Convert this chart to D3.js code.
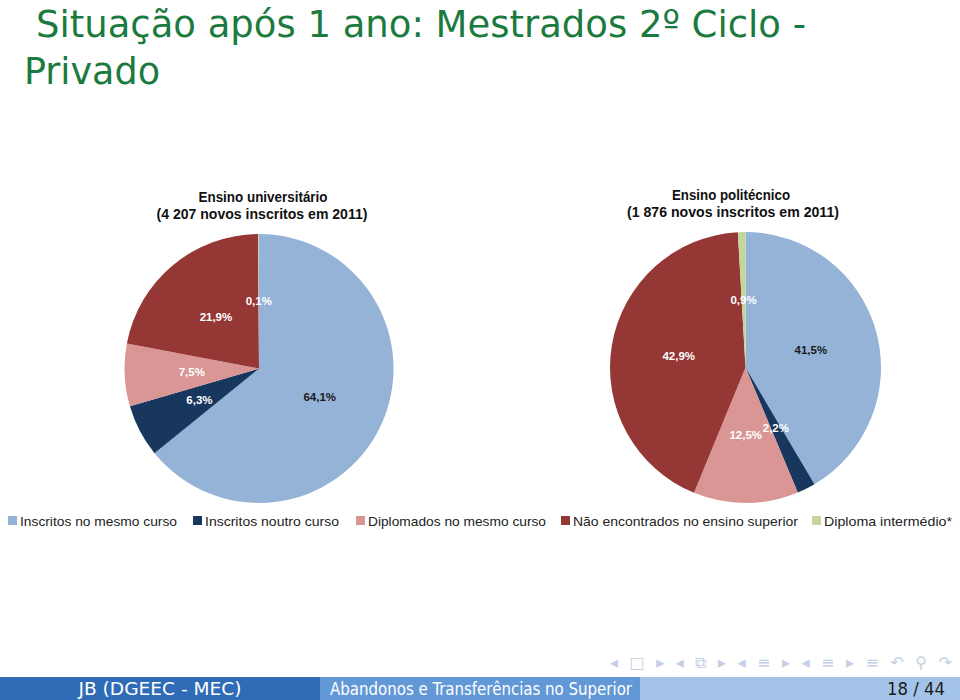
<!DOCTYPE html>
<html>
<head>
<meta charset="utf-8">
<script src="https://cdn.jsdelivr.net/npm/d3@7"></script>
<style>
  html, body { margin: 0; padding: 0; background: #fff; }
  svg { display: block; }
</style>
</head>
<body>
<svg id="chart" width="960" height="700"></svg>
<script>
// ---- Data ----
const categories = [
  "Inscritos no mesmo curso",
  "Inscritos noutro curso",
  "Diplomados no mesmo curso",
  "Não encontrados no ensino superior",
  "Diploma intermédio*"
];
const universitarioValues = [64.1, 6.3, 7.5, 21.9, 0.1];
const politecnicoValues   = [41.5, 2.2, 12.5, 42.9, 0.9];
const universitarioTitle = ["Ensino universitário", "(4 207 novos inscritos em 2011)"];
const politecnicoTitle   = ["Ensino politécnico", "(1 876 novos inscritos em 2011)"];
const slideTitle = ["Situação após 1 ano: Mestrados 2º Ciclo -", "Privado"];
const footerTexts = ["JB  (DGEEC - MEC)", "Abandonos e Transferências no Superior", "18 / 44"];

// ---- Styles ----
const colors = ["#95b3d7", "#17375e", "#d99694", "#953735", "#c3d69b"];
const labelColors = ["#1a1a1a", "#ffffff", "#ffffff", "#ffffff", "#ffffff"];

const svg = d3.select("#chart");
const color = d3.scaleOrdinal().domain(categories).range(colors);
const labelColor = d3.scaleOrdinal().domain(categories).range(labelColors);

// Slide title
const titleG = svg.append("g").attr("fill", "#1b7a3e")
  .attr("font-family", "'DejaVu Sans Condensed', 'Liberation Sans', sans-serif");
titleG.append("text").attr("x", 36).attr("y", 37).attr("font-size", 38)
  .attr("textLength", 770).attr("lengthAdjust", "spacingAndGlyphs")
  .text(slideTitle[0]);
titleG.append("text").attr("x", 24).attr("y", 84).attr("font-size", 38)
  .attr("textLength", 136).attr("lengthAdjust", "spacingAndGlyphs")
  .text(slideTitle[1]);

// Pies
const pie = d3.pie().sort(null).value(d => d.value);

function drawPie(values, titles, cx, cy, r, titleX, titleW) {
  const data = categories.map((c, i) => ({ cat: c, value: values[i] }));
  const arcs = pie(data);
  const arc = d3.arc().innerRadius(0).outerRadius(r);
  const labelArc = d3.arc().innerRadius(0).outerRadius(r);
  const g = svg.append("g").attr("transform", `translate(${cx},${cy})`);
  g.selectAll("path").data(arcs).join("path")
    .attr("d", arc)
    .attr("fill", d => color(d.data.cat));
  g.selectAll("text").data(arcs).join("text")
    .attr("transform", d => `translate(${labelArc.centroid(d)})`)
    .attr("text-anchor", "middle")
    .attr("dy", "0.35em")
    .attr("font-family", "'Liberation Sans', Arial, sans-serif")
    .attr("font-weight", "bold")
    .attr("font-size", 11.5)
    .attr("fill", d => labelColor(d.data.cat))
    .text(d => d3.format(".1f")(d.data.value).replace(".", ",") + "%");

  const tg = svg.append("g")
    .attr("font-family", "'Liberation Sans', Arial, sans-serif")
    .attr("font-weight", "bold").attr("font-size", 15).attr("fill", "#111");
  tg.append("text").attr("x", titleX[0]).attr("y", cy - r - 32)
    .attr("text-anchor", "middle")
    .attr("textLength", titleW[0]).attr("lengthAdjust", "spacingAndGlyphs")
    .text(titles[0]);
  tg.append("text").attr("x", titleX[1]).attr("y", cy - r - 15)
    .attr("text-anchor", "middle")
    .attr("textLength", titleW[1]).attr("lengthAdjust", "spacingAndGlyphs")
    .text(titles[1]);
}

drawPie(universitarioValues, universitarioTitle, 259, 368.5, 134.5, [263, 262], [129, 211]);
drawPie(politecnicoValues, politecnicoTitle, 745.5, 367.5, 135.5, [731, 733], [118, 212]);

// Legend
const legendX = [8, 193, 356, 561, 812];
const legendW = [157, 134, 178, 225, 128];
const legend = svg.append("g")
  .attr("font-family", "'Liberation Sans', Arial, sans-serif")
  .attr("font-size", 13.5).attr("fill", "#222");
categories.forEach((c, i) => {
  legend.append("rect").attr("x", legendX[i]).attr("y", 516)
    .attr("width", 9).attr("height", 9).attr("fill", color(c));
  legend.append("text").attr("x", legendX[i] + 12).attr("y", 526)
    .attr("textLength", legendW[i]).attr("lengthAdjust", "spacingAndGlyphs")
    .text(c);
});

// Navigation symbols
svg.append("text").attr("x", 610).attr("y", 668)
  .attr("font-family", "'DejaVu Sans', sans-serif").attr("font-size", 16)
  .attr("fill", "#c3cfe2")
  .attr("textLength", 342).attr("lengthAdjust", "spacing")
  .text("◂ □ ▸ ◂ ⧉ ▸ ◂ ≡ ▸ ◂ ≡ ▸ ≡ ↶ ⚲ ↷");

// Footer
const footColors = ["#2f6bb7", "#6398d6", "#a4c3e8"];
[0, 1, 2].forEach(i => {
  svg.append("rect").attr("x", i * 320).attr("y", 677)
    .attr("width", 320).attr("height", 23).attr("fill", footColors[i]);
});
const ft = svg.append("g").attr("font-family", "'DejaVu Sans Condensed', 'Liberation Sans', sans-serif")
  .attr("font-size", 17);
ft.append("text").attr("x", 160).attr("y", 695).attr("text-anchor", "middle")
  .attr("fill", "#fff").attr("textLength", 163).attr("lengthAdjust", "spacingAndGlyphs")
  .text(footerTexts[0]);
ft.append("text").attr("x", 330).attr("y", 695)
  .attr("fill", "#fff").attr("textLength", 302).attr("lengthAdjust", "spacingAndGlyphs")
  .text(footerTexts[1]);
ft.append("text").attr("x", 945).attr("y", 695).attr("text-anchor", "end")
  .attr("fill", "#1a1a1a").attr("textLength", 58).attr("lengthAdjust", "spacingAndGlyphs")
  .text(footerTexts[2]);
</script>
</body>
</html>
